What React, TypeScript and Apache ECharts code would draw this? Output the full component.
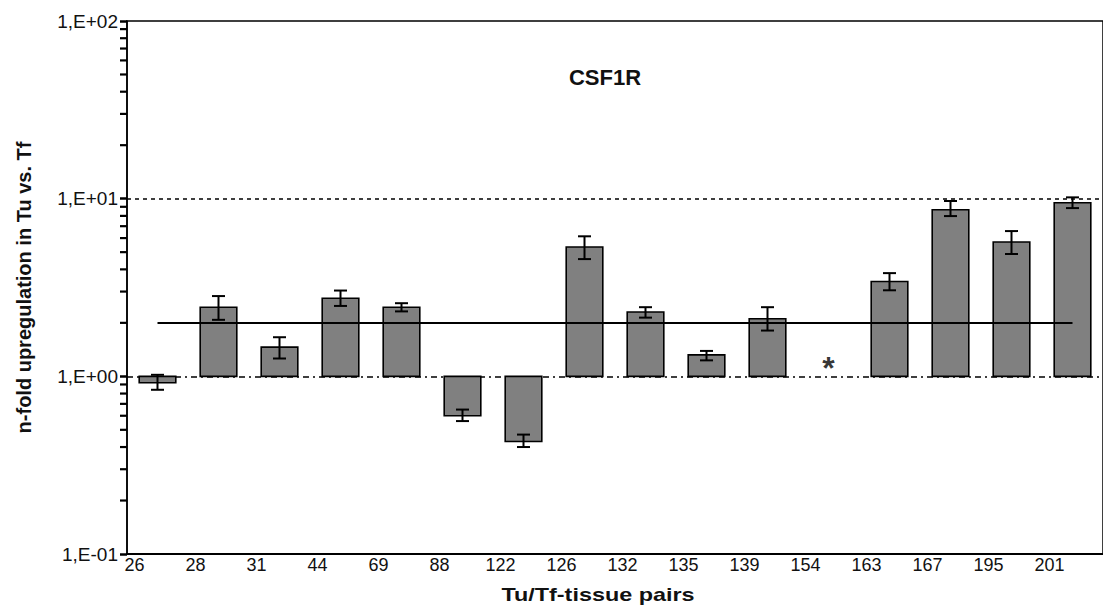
import React, { useEffect, useRef } from "react";
import * as echarts from "echarts";

const categories = ["26", "28", "31", "44", "69", "88", "122", "126", "132", "135", "139", "154", "163", "167", "195", "201"];
const values: (number | null)[] = [0.92, 2.45, 1.46, 2.75, 2.45, 0.6, 0.43, 5.34, 2.3, 1.32, 2.11, null, 3.42, 8.67, 5.7, 9.49];
const errLow: (number | null)[] = [0.84, 2.08, 1.26, 2.49, 2.32, 0.56, 0.4, 4.57, 2.14, 1.23, 1.81, null, 3.05, 7.98, 4.88, 8.85];
const errHigh: (number | null)[] = [1.02, 2.83, 1.66, 3.04, 2.58, 0.65, 0.47, 6.14, 2.45, 1.39, 2.45, null, 3.81, 9.7, 6.57, 10.17];
const thresholdValue = 2;
const baselineValue = 1;
const asteriskCategory = "154";
const yTickLabels = ["1,E-01", "1,E+00", "1,E+01", "1,E+02"];
const minorTickValues = [0.2, 0.3, 0.4, 0.5, 0.6, 0.7, 0.8, 0.9, 2, 3, 4, 5, 6, 7, 8, 9, 20, 30, 40, 50, 60, 70, 80, 90];

const FONT = "Liberation Sans, Arial, sans-serif";

export default function App() {
  const ref = useRef<HTMLDivElement>(null);
  useEffect(() => {
    if (!ref.current) return;
    const chart = echarts.init(ref.current, undefined, { renderer: "svg" });
    const barData = values
      .map((v, i) => (v == null ? null : [i, v, errLow[i], errHigh[i]]))
      .filter((d) => d != null);

    const xNameText = {
      type: "text",
      id: "xname",
      x: 598,
      y: 595,
      scaleX: 1.3,
      style: {
        text: "Tu/Tf-tissue pairs",
        fontFamily: FONT,
        fontWeight: "bold",
        fontSize: 18,
        fill: "#111",
        align: "center",
        verticalAlign: "middle",
      },
    };

    const option: any = {
      animation: false,
      backgroundColor: "#fff",
      title: {
        text: "CSF1R",
        left: 600,
        top: 61,
        textAlign: "center",
        textStyle: { fontFamily: FONT, fontWeight: "bold", fontSize: 22, color: "#111" },
      },
      grid: {
        left: 127,
        top: 21,
        width: 987,
        height: 533,
        show: true,
        borderColor: "#000",
        borderWidth: 1.5,
        backgroundColor: "transparent",
      },
      xAxis: {
        type: "category",
        data: categories,
        axisLine: { show: true, onZero: false, lineStyle: { color: "#000", width: 2 } },
        axisTick: { show: false },
        axisLabel: {
          fontFamily: FONT,
          fontSize: 18,
          color: "#111",
          margin: 2,
          padding: [0, 46, 0, 0],
        },
        splitLine: { show: false },
      },
      yAxis: {
        type: "log",
        logBase: 10,
        min: 0.1,
        max: 100,
        name: "n-fold upregulation in Tu vs. Tf",
        nameLocation: "middle",
        nameGap: 93,
        nameRotate: 90,
        nameTextStyle: { fontFamily: FONT, fontWeight: "bold", fontSize: 20, color: "#111" },
        axisLine: { show: true, lineStyle: { color: "#000", width: 1.5 } },
        axisTick: { show: true, inside: false, length: 7, lineStyle: { color: "#000", width: 2.5 } },
        axisLabel: {
          fontFamily: FONT,
          fontSize: 19,
          color: "#111",
          margin: 9,
          formatter: (v: number) => {
            const e = Math.round(Math.log10(v));
            return yTickLabels[e + 1] ?? "";
          },
        },
        splitLine: { show: false },
      },
      graphic: [xNameText],
      series: [
        {
          type: "custom",
          name: "bars",
          data: barData,
          encode: { x: 0, y: 1 },
          z: 2,
          renderItem: (params: any, api: any) => {
            const i = api.value(0);
            const v = api.value(1);
            const base = api.coord([i, baselineValue]);
            const top = api.coord([i, v]);
            const band = api.coord([1, baselineValue])[0] - api.coord([0, baselineValue])[0];
            const w = band * 0.6;
            return {
              type: "rect",
              shape: {
                x: base[0] - w / 2,
                y: Math.min(base[1], top[1]),
                width: w,
                height: Math.abs(base[1] - top[1]),
              },
              style: { fill: "#808080", stroke: "#000", lineWidth: 1.6 },
            };
          },
          markLine: {
            silent: true,
            symbol: "none",
            label: { show: false },
            z: 1,
            data: [
              { yAxis: 10, lineStyle: { color: "#000", type: [4, 4], width: 1.5 } },
              { yAxis: baselineValue, lineStyle: { color: "#000", type: [6, 4, 2, 4], width: 1.5 } },
            ],
          },
        },
        {
          type: "custom",
          name: "errors",
          data: barData,
          encode: { x: 0, y: 1 },
          z: 4,
          renderItem: (params: any, api: any) => {
            const i = api.value(0);
            const lo = api.coord([i, api.value(2)]);
            const hi = api.coord([i, api.value(3)]);
            const cap = 6.5;
            const st = { stroke: "#000", lineWidth: 2 };
            return {
              type: "group",
              children: [
                { type: "line", shape: { x1: lo[0], y1: lo[1], x2: hi[0], y2: hi[1] }, style: st },
                { type: "line", shape: { x1: lo[0] - cap, y1: lo[1], x2: lo[0] + cap, y2: lo[1] }, style: st },
                { type: "line", shape: { x1: hi[0] - cap, y1: hi[1], x2: hi[0] + cap, y2: hi[1] }, style: st },
              ],
            };
          },
        },
        {
          type: "scatter",
          name: "threshold",
          data: [[asteriskCategory, baselineValue]],
          symbolSize: 0,
          z: 5,
          label: {
            show: true,
            formatter: "*",
            position: "inside",
            offset: [0, -8],
            fontFamily: FONT,
            fontWeight: "bold",
            fontSize: 32,
            color: "#000",
          },
          markLine: {
            silent: true,
            symbol: "none",
            label: { show: false },
            lineStyle: { color: "#000", type: "solid", width: 2 },
            z: 3,
            data: [[{ coord: [categories[0], thresholdValue] }, { coord: [categories[categories.length - 1], thresholdValue] }]],
          },
        },
      ],
    };
    chart.setOption(option);

    // minor ticks of the log axis, placed through the chart's own scales
    const p0 = chart.convertToPixel({ gridIndex: 0 } as any, [0, baselineValue]) as number[];
    const p1 = chart.convertToPixel({ gridIndex: 0 } as any, [1, baselineValue]) as number[];
    const axisX = p0[0] - (p1[0] - p0[0]) / 2;
    const minorTicks = minorTickValues.map((v, k) => {
      const pt = chart.convertToPixel({ gridIndex: 0 } as any, [0, v]) as number[];
      return {
        type: "rect",
        id: "minor" + k,
        z: 10,
        shape: { x: axisX - 7, y: pt[1] - 1.1, width: 7, height: 2.2 },
        style: { fill: "#000" },
      };
    });
    chart.setOption({ graphic: [xNameText, ...minorTicks] });
    return () => chart.dispose();
  }, []);
  return <div ref={ref} style={{ position: "fixed", left: 0, top: 0, width: 1103, height: 608 }} />;
}
